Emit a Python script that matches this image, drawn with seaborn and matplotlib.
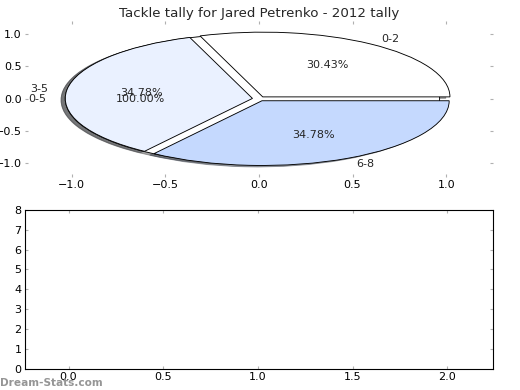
import matplotlib
matplotlib.use("Agg")
from matplotlib import pyplot as plt
import seaborn as sns

# tackle tally data
ranges = ["0-2", "3-5", "6-8"]
tackles = [7, 8, 8]
total_range = ["0-5"]
total_tackles = [23]
pie_colors = ["#ffffff", "#eaf1ff", "#c5d9fe"]
pie_ticks = [-1.0, -0.5, 0.0, 0.5, 1.0]
bar_xticks = [0.0, 0.5, 1.0, 1.5, 2.0]
bar_yticks = [0, 1, 2, 3, 4, 5, 6, 7, 8]

sns.set_theme(style="white", context="paper")
plt.rcParams["font.family"] = ["DejaVu Sans"]
plt.rcParams.update({
    "xtick.direction": "in",
    "ytick.direction": "in",
    "xtick.color": "#b0b0b0",
    "ytick.color": "#b0b0b0",
    "xtick.labelcolor": "black",
    "ytick.labelcolor": "black",
    "xtick.major.size": 3,
    "ytick.major.size": 3,
    "xtick.major.width": 1,
    "ytick.major.width": 1,
    "xtick.labelsize": 10,
    "ytick.labelsize": 10,
    "axes.edgecolor": "black",
    "axes.linewidth": 1.0,
})

fig = plt.figure(figsize=(6.5, 4.875), dpi=80)
ax_pie = fig.add_axes([0.048, 0.546, 0.9, 0.4])
ax_bar = fig.add_axes([0.048, 0.054, 0.9, 0.408])

# overall pie underneath, then the split pie on top
ax_pie.pie(total_tackles, labels=total_range, autopct="%.2f%%", explode=[0.035],
           colors=["#ffffff"], shadow=True, frame=True,
           wedgeprops={"edgecolor": "black", "linewidth": 0.8},
           textprops={"fontsize": 10})
ax_pie.pie(tackles, labels=ranges, autopct="%.2f%%", explode=[0.035, 0.035, 0.035],
           colors=pie_colors, shadow=True, frame=True,
           wedgeprops={"edgecolor": "black", "linewidth": 0.8},
           textprops={"fontsize": 10})
ax_pie.set_aspect("auto")
ax_pie.set_xlim(-1.25, 1.25)
ax_pie.set_ylim(-1.21, 1.2)
ax_pie.set_xticks(pie_ticks)
ax_pie.set_yticks(pie_ticks)
ax_pie.set_frame_on(False)
ax_pie.tick_params(top=True, right=True, bottom=True, left=True, pad=3)
ax_pie.set_title("Tackle tally for Jared Petrenko - 2012 tally", fontsize=12, pad=4)

ax_bar.set_xlim(-0.23, 2.24)
ax_bar.set_ylim(0, 8)
ax_bar.set_xticks(bar_xticks)
ax_bar.set_yticks(bar_yticks)
ax_bar.tick_params(top=True, right=True, bottom=True, left=True, pad=3)
for s in ax_bar.spines.values():
    s.set_visible(True)

fig.text(0.0, 0.01, "Dream-Stats.com", color="#959595", fontsize=9.5, fontweight="bold")

plt.savefig("out.png", dpi=80)
